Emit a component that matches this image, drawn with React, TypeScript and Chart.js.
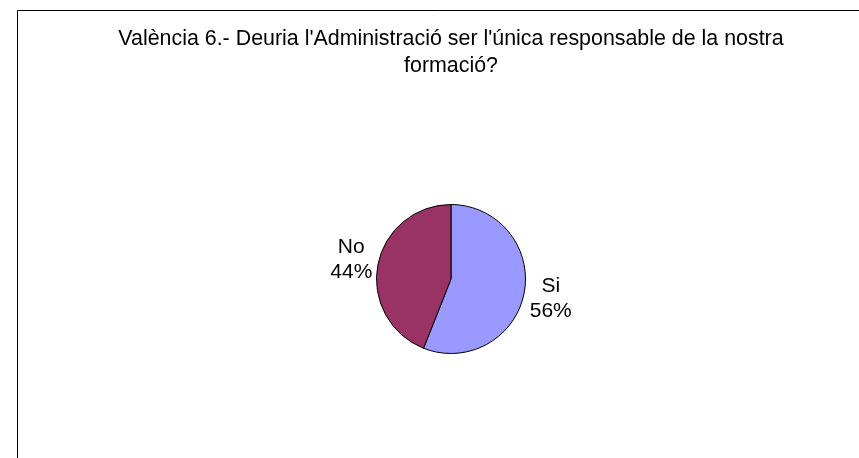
import React, { useEffect, useRef } from "react";
import { Chart, registerables } from "chart.js";

Chart.register(...registerables);

const titleLines = ["València 6.- Deuria l'Administració ser l'única responsable de la nostra", "formació?"];
const categories = ["Si", "No"];
const values = [56, 44];
const colors = ["#9999FF", "#993366"];

const FONT = "Arial, 'Liberation Sans', Helvetica, sans-serif";

const decorPlugin = {
  id: "decor",
  beforeDraw(chart: any) {
    const ctx = chart.ctx;
    ctx.save();
    ctx.fillStyle = "#ffffff";
    ctx.fillRect(0, 0, chart.width, chart.height);
    ctx.strokeStyle = "#000000";
    ctx.lineWidth = 1;
    ctx.beginPath();
    ctx.moveTo(17.5, chart.height);
    ctx.lineTo(17.5, 10.5);
    ctx.lineTo(chart.width, 10.5);
    ctx.stroke();
    // title
    ctx.fillStyle = "#000000";
    ctx.font = `21.4px ${FONT}`;
    ctx.textAlign = "center";
    ctx.textBaseline = "alphabetic";
    const cx = 451;
    ctx.fillText(titleLines[0], cx, 45);
    ctx.fillText(titleLines[1], cx, 72);
    ctx.restore();
  },
  afterDraw(chart: any) {
    const ctx = chart.ctx;
    const meta = chart.getDatasetMeta(0);
    const total = values.reduce((a, b) => a + b, 0);
    ctx.save();
    ctx.fillStyle = "#000000";
    ctx.font = `21px ${FONT}`;
    ctx.textAlign = "center";
    ctx.textBaseline = "middle";
    const lineH = 25;
    meta.data.forEach((arc: any, i: number) => {
      const { x, y, outerRadius, startAngle, endAngle } = arc.getProps(["x", "y", "outerRadius", "startAngle", "endAngle"], true);
      const mid = (startAngle + endAngle) / 2;
      const dx = Math.cos(mid);
      const dy = Math.sin(mid);
      const lines = [categories[i], Math.round((values[i] / total) * 100) + "%"];
      const w = Math.max(...lines.map((l) => ctx.measureText(l).width));
      const h = lines.length * lineH;
      const px = x + dx * (outerRadius + 6);
      const py = y + dy * (outerRadius + 6);
      const bx = px + dx * (w / 2);
      const by = py + dy * (h / 2);
      lines.forEach((l, k) => {
        ctx.fillText(l, bx, by - h / 2 + lineH * (k + 0.5));
      });
    });
    ctx.restore();
  },
};

export default function App() {
  const ref = useRef<HTMLCanvasElement | null>(null);
  useEffect(() => {
    if (!ref.current) return;
    const chart = new Chart(ref.current, {
      type: "pie",
      data: {
        labels: categories,
        datasets: [
          {
            data: values,
            backgroundColor: colors,
            borderColor: "#000000",
            borderWidth: 1,
            hoverOffset: 0,
          },
        ],
      },
      options: {
        responsive: false,
        animation: false,
        events: [],
        layout: { padding: { left: 376, right: 333, top: 204, bottom: 104 } },
        plugins: {
          legend: { display: false },
          title: { display: false },
          tooltip: { enabled: false },
        },
      },
      plugins: [decorPlugin],
    });
    return () => chart.destroy();
  }, []);
  return (
    <div style={{ position: "fixed", left: 0, top: 0, width: 859, height: 458, background: "#fff" }}>
      <canvas ref={ref} width={859} height={458} style={{ display: "block", width: 859, height: 458 }} />
    </div>
  );
}
